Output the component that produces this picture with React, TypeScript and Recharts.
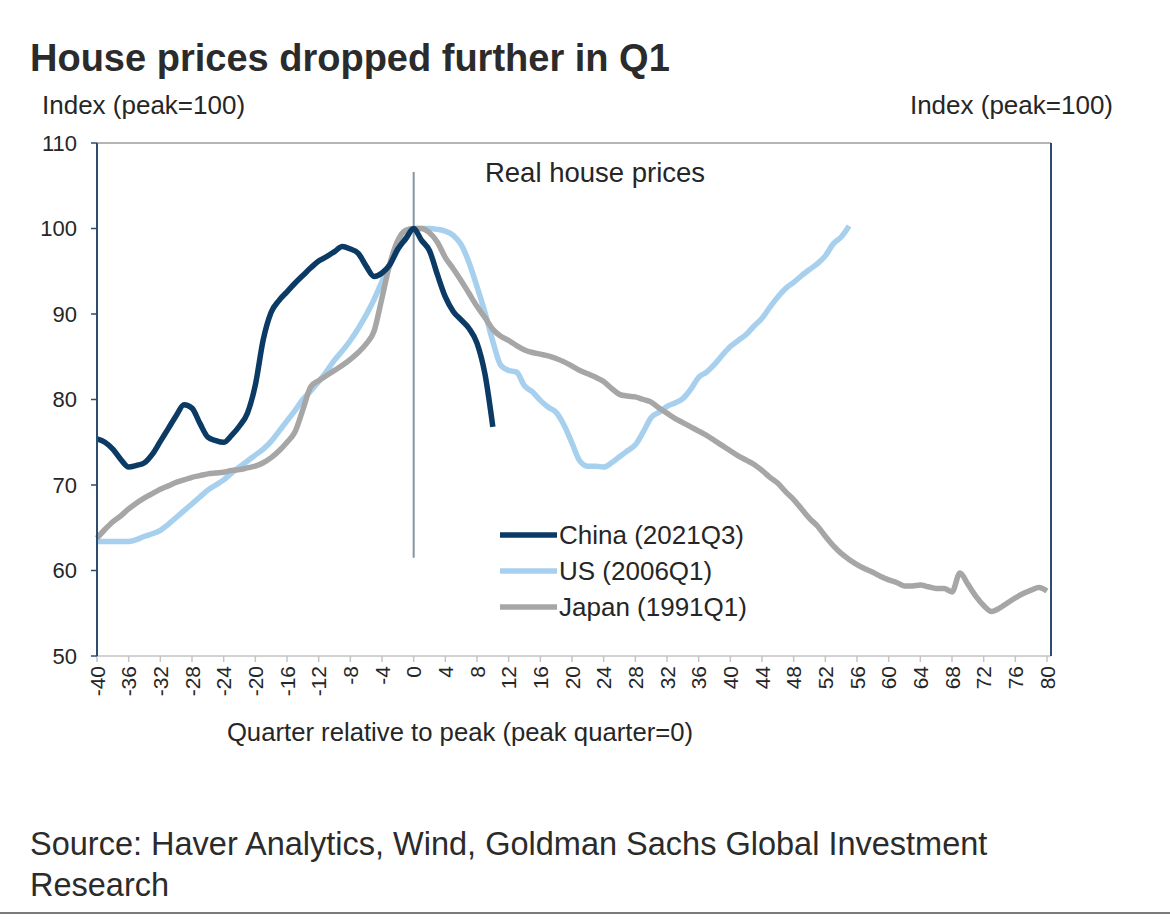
import React from 'react';
import { LineChart, Line, XAxis, YAxis, ReferenceLine } from 'recharts';

// quarter relative to peak, -40 .. 80
const quarters = Array.from({ length: 121 }, (_, i) => i - 40);

const xTicks = [-40, -36, -32, -28, -24, -20, -16, -12, -8, -4, 0, 4, 8, 12, 16, 20, 24, 28, 32, 36, 40, 44, 48, 52, 56, 60, 64, 68, 72, 76, 80];
const yTicks = [50, 60, 70, 80, 90, 100, 110];

// China (2021Q3), quarters -40 .. 10
const china = [
  75.4, 75.0, 74.2, 73.0, 72.1, 72.3, 72.6, 73.6, 75.1, 76.6,
  78.1, 79.4, 79.0, 77.2, 75.6, 75.2, 75.0, 75.8, 76.9, 78.4,
  81.7, 87.0, 90.2, 91.6, 92.6, 93.6, 94.5, 95.4, 96.2, 96.7,
  97.3, 97.9, 97.6, 97.1, 95.6, 94.4, 94.8, 95.8, 97.6, 98.8,
  100.0, 98.6, 97.4, 94.6, 92.0, 90.3, 89.3, 88.3, 86.6, 83.0,
  76.8,
];

// US (2006Q1), quarters -40 .. 55
const us = [
  63.4, 63.4, 63.4, 63.4, 63.4, 63.6, 64.0, 64.3, 64.7, 65.4,
  66.2, 67.0, 67.8, 68.6, 69.4, 70.0, 70.6, 71.4, 72.1, 72.8,
  73.5, 74.2, 75.1, 76.3, 77.5, 78.7, 80.0, 81.0, 82.1, 83.3,
  84.6, 85.7, 86.9, 88.3, 89.9, 91.7, 93.8, 95.7, 97.5, 99.0,
  100.0, 100.0, 100.0, 99.9, 99.7, 99.2, 98.1, 96.0, 93.2, 90.2,
  86.8, 84.0, 83.4, 83.2, 81.6, 80.9, 79.9, 79.1, 78.5, 77.0,
  74.9, 72.8, 72.2, 72.2, 72.1, 72.6, 73.3, 74.0, 74.7, 76.2,
  77.9, 78.5, 79.2, 79.6, 80.1, 81.2, 82.6, 83.2, 84.1, 85.2,
  86.2, 86.9, 87.6, 88.6, 89.5, 90.8, 92.0, 93.0, 93.7, 94.5,
  95.2, 95.9, 96.8, 98.2, 99.0, 100.3,
];

// Japan (1991Q1), quarters -40 .. 80
const japan = [
  63.8, 64.8, 65.7, 66.4, 67.2, 67.9, 68.5, 69.0, 69.5, 69.9,
  70.3, 70.6, 70.9, 71.1, 71.3, 71.4, 71.5, 71.7, 71.8, 72.0,
  72.2, 72.6, 73.2, 74.0, 75.0, 76.2, 78.8, 81.5, 82.2, 82.8,
  83.4, 84.0, 84.7, 85.5, 86.5, 88.0, 91.9, 95.9, 98.6, 99.8,
  100.0, 100.0, 99.5, 98.4, 96.6, 95.3, 93.9, 92.4, 90.9, 89.6,
  88.2, 87.4, 86.9, 86.3, 85.8, 85.5, 85.3, 85.1, 84.8, 84.4,
  83.9, 83.4, 83.0, 82.6, 82.1, 81.3, 80.6, 80.4, 80.3, 80.0,
  79.7, 79.0, 78.4, 77.8, 77.3, 76.8, 76.3, 75.8, 75.2, 74.6,
  74.0, 73.4, 72.9, 72.4, 71.7, 70.9, 70.2, 69.2, 68.3, 67.2,
  66.1, 65.2, 64.0, 62.9, 62.0, 61.3, 60.7, 60.2, 59.8, 59.3,
  58.9, 58.6, 58.2, 58.2, 58.3, 58.1, 57.9, 57.9, 57.5, 59.7,
  58.4, 57.0, 55.9, 55.2, 55.6, 56.2, 56.8, 57.3, 57.7, 58.0,
  57.6,
];

const legendItems = [
  { name: 'China (2021Q3)', color: '#0b3a64' },
  { name: 'US (2006Q1)', color: '#a7cfee' },
  { name: 'Japan (1991Q1)', color: '#a6a6a6' },
];

const chartData = quarters.map((q, i) => ({
  q,
  china: i < china.length ? china[i] : null,
  us: i < us.length ? us[i] : null,
  japan: i < japan.length ? japan[i] : null,
}));

const FONT = '"Liberation Sans", Arial, sans-serif';
const NAVY = '#2c4d70';
const TEXT = '#262626';

const RotatedTick = (props: any) => {
  const { x, y, payload } = props;
  return (
    <text
      x={x}
      y={y}
      transform={`rotate(-90 ${x} ${y})`}
      textAnchor="end"
      dy="0.36em"
      fontSize={21}
      fontFamily={FONT}
      fill={TEXT}
    >
      {payload.value}
    </text>
  );
};

export default function App() {
  return (
    <div style={{ position: 'absolute', left: 0, top: 0, width: 1170, height: 919, background: '#fff', fontFamily: FONT, color: TEXT, overflow: 'hidden' }}>
      <div style={{ position: 'absolute', left: 30, top: 39, fontSize: 38, fontWeight: 700, lineHeight: 1, color: '#2b2b2b', whiteSpace: 'nowrap' }}>
        House prices dropped further in Q1
      </div>
      <div style={{ position: 'absolute', left: 42, top: 92, fontSize: 26, lineHeight: 1, whiteSpace: 'nowrap' }}>
        Index (peak=100)
      </div>
      <div style={{ position: 'absolute', right: 1170 - 1113, top: 92, fontSize: 26, lineHeight: 1, whiteSpace: 'nowrap' }}>
        Index (peak=100)
      </div>

      <div style={{ position: 'absolute', left: 0, top: 0 }}>
        <LineChart width={1170} height={780} data={chartData} margin={{ top: 143, right: 0, bottom: 64, left: 0 }}>
          <XAxis
            dataKey="q"
            type="number"
            domain={[-40, 80]}
            ticks={xTicks}
            interval={0}
            padding={{ left: 0, right: 4 }}
            height={60}
            axisLine={{ stroke: '#d2d2d2', strokeWidth: 2 }}
            tickLine={{ stroke: '#c4c4c4', strokeWidth: 1.5 }}
            tickSize={6}
            tickMargin={4}
            tick={<RotatedTick />}
          />
          <YAxis
            yAxisId="left"
            domain={[50, 110]}
            ticks={yTicks}
            width={97}
            axisLine={{ stroke: NAVY, strokeWidth: 2 }}
            tickLine={{ stroke: NAVY, strokeWidth: 1.5 }}
            tickSize={6}
            tickMargin={14}
            tick={{ fontSize: 22, fill: TEXT, fontFamily: FONT }}
          />
          <YAxis
            yAxisId="right"
            orientation="right"
            domain={[50, 110]}
            ticks={yTicks}
            width={119}
            axisLine={{ stroke: NAVY, strokeWidth: 2 }}
            tickLine={{ stroke: NAVY, strokeWidth: 1.5 }}
            tickSize={6}
            tickMargin={18}
            tick={{ fontSize: 22, fill: TEXT, fontFamily: FONT, textAnchor: 'start' }}
          />
          <ReferenceLine yAxisId="left" y={110} stroke="#b5b5b5" strokeWidth={2} />
          <ReferenceLine
            yAxisId="left"
            segment={[{ x: 0, y: 106.6 }, { x: 0, y: 61.5 }]}
            stroke="#8794a2"
            strokeWidth={2}
          />
          <Line yAxisId="left" type="monotone" dataKey="us" stroke="#a7cfee" strokeWidth={5.5} dot={false} isAnimationActive={false} strokeLinejoin="round" />
          <Line yAxisId="left" type="monotone" dataKey="japan" stroke="#a6a6a6" strokeWidth={5.5} dot={false} isAnimationActive={false} strokeLinejoin="round" />
          <Line yAxisId="left" type="monotone" dataKey="china" stroke="#0b3a64" strokeWidth={5.5} dot={false} isAnimationActive={false} strokeLinejoin="round" />
        </LineChart>
      </div>

      <div style={{ position: 'absolute', left: 0, width: 1190, top: 159, textAlign: 'center', fontSize: 27.5, lineHeight: 1, whiteSpace: 'nowrap' }}>
        Real house prices
      </div>

      <svg style={{ position: 'absolute', left: 490, top: 510 }} width={300} height={120}>
        {legendItems.map((item, i) => (
          <g key={item.name}>
            <line x1={10} x2={67} y1={25 + i * 36} y2={25 + i * 36} stroke={item.color} strokeWidth={5.5} />
            <text x={69} y={25 + i * 36} dy="0.36em" fontSize={26} fontFamily={FONT} fill={TEXT}>
              {item.name}
            </text>
          </g>
        ))}
      </svg>

      <div style={{ position: 'absolute', left: 0, width: 920, top: 720, textAlign: 'center', fontSize: 25.7, lineHeight: 1, whiteSpace: 'nowrap' }}>
        Quarter relative to peak (peak quarter=0)
      </div>

      <div style={{ position: 'absolute', left: 30, top: 824, width: 1000, fontSize: 32.5, lineHeight: '41px', color: '#2b2b2b' }}>
        Source: Haver Analytics, Wind, Goldman Sachs Global Investment Research
      </div>
      <div style={{ position: 'absolute', left: 0, top: 912, width: 1170, height: 2, background: '#7a7a7a' }} />
    </div>
  );
}
